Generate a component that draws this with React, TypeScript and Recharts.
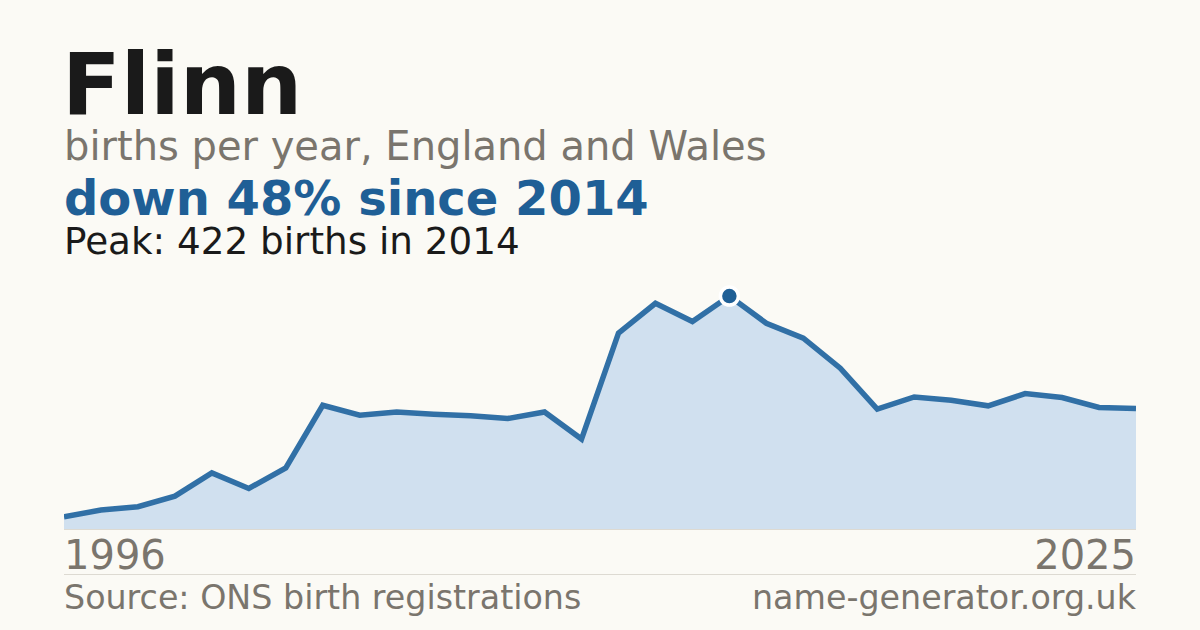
import React from "react";
import { AreaChart, Area, XAxis, YAxis, ReferenceDot, ReferenceLine } from "recharts";

const years = [1996,1997,1998,1999,2000,2001,2002,2003,2004,2005,2006,2007,2008,2009,2010,2011,2012,2013,2014,2015,2016,2017,2018,2019,2020,2021,2022,2023,2024,2025];
const births = [24,36,42,61,103,75,112,225,207,213,209,206,201,213,164,355,409,376,422,373,346,292,218,240,234,224,246,239,221,219];
const title = "Flinn";
const subtitle = "births per year, England and Wales";
const headline = "down 48% since 2014";
const peakText = "Peak: 422 births in 2014";
const firstYearLabel = "1996";
const lastYearLabel = "2025";
const sourceText = "Source: ONS birth registrations";
const siteText = "name-generator.org.uk";
const peakYear = 2014;
const peakValue = 422;

const data = years.map((y, i) => ({ year: y, births: births[i] }));

const FONT = "'DejaVu Sans', sans-serif";

export default function App() {
  return (
    <div style={{ position: "absolute", left: 0, top: 0, width: 1200, height: 630, background: "#fbfaf5", overflow: "hidden" }}>
      <svg width={1200} height={630} style={{ position: "absolute", left: 0, top: 0 }}>
        <text x={62} y={114} fontFamily={FONT} fontWeight="bold" fontSize={86} fill="#1a1a1a">{title}</text>
        <text x={64} y={160} fontFamily={FONT} fontSize={40} fill="#7a756d">{subtitle}</text>
        <text x={64} y={215} fontFamily={FONT} fontWeight="bold" fontSize={48} fill="#1f5f96">{headline}</text>
        <text x={64} y={254} fontFamily={FONT} fontSize={37.3} fill="#1a1a1a">{peakText}</text>
        <text x={64} y={569} fontFamily={FONT} fontSize={40} fill="#7a756d">{firstYearLabel}</text>
        <text x={1136} y={569} fontFamily={FONT} fontSize={40} fill="#7a756d" textAnchor="end">{lastYearLabel}</text>
        <line x1={64} x2={1136} y1={574.5} y2={574.5} stroke="#dddad2" strokeWidth={1} />
        <text x={64} y={609} fontFamily={FONT} fontSize={33.3} fill="#7a756d">{sourceText}</text>
        <text x={1136} y={609} fontFamily={FONT} fontSize={33.3} fill="#7a756d" textAnchor="end">{siteText}</text>
      </svg>
      <div style={{ position: "absolute", left: 64, top: 280 }}>
        <AreaChart width={1072} height={250} data={data} margin={{ top: 0, right: 0, bottom: 0, left: 0 }}>
          <XAxis dataKey="year" type="number" domain={[1996, 2025]} hide />
          <YAxis type="number" domain={[0, 451]} hide allowDataOverflow />
          <ReferenceLine y={0} stroke="#dddad2" strokeWidth={2} />
          <Area
            type="linear"
            dataKey="births"
            stroke="#3170a6"
            strokeWidth={5.5}
            fill="#d0e0ef"
            fillOpacity={1}
            dot={false}
            activeDot={false}
            isAnimationActive={false}
          />
          <ReferenceDot x={peakYear} y={peakValue} r={9} fill="#1f5f96" stroke="#ffffff" strokeWidth={3.5} />
        </AreaChart>
      </div>
    </div>
  );
}
